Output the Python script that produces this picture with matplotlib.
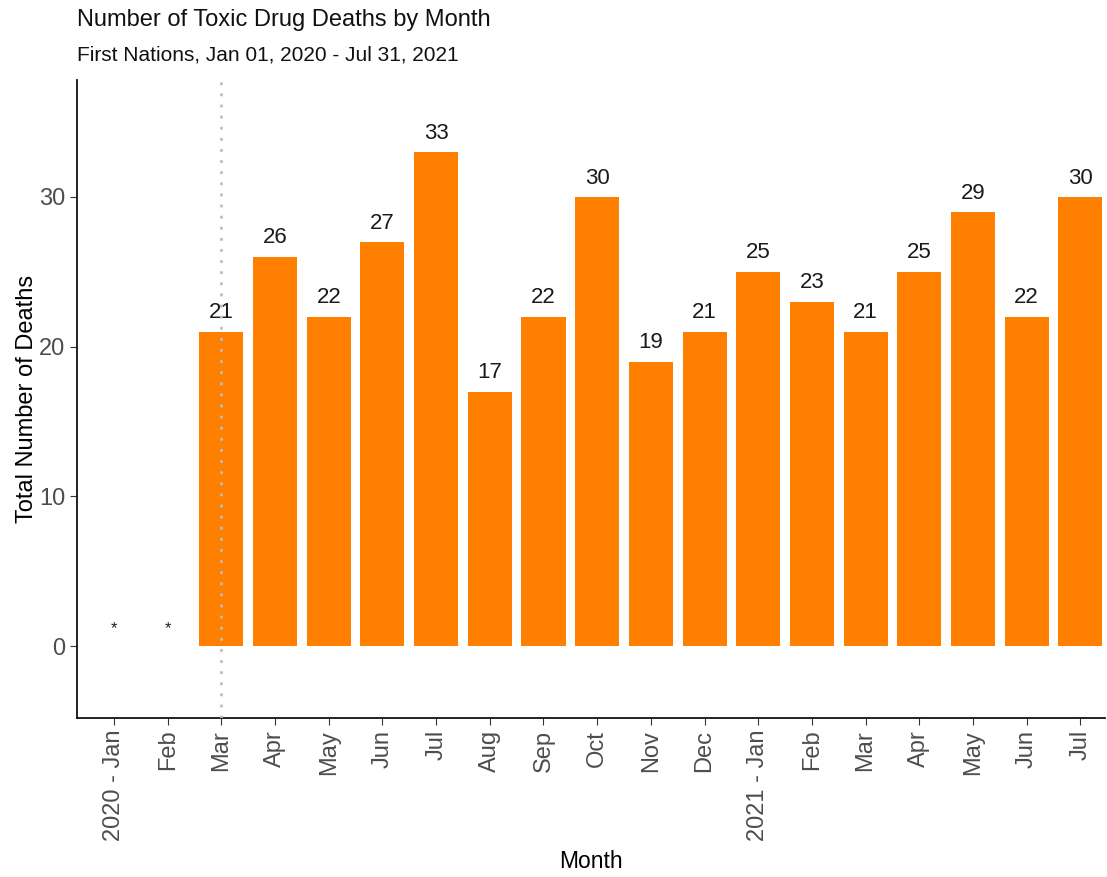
import matplotlib
matplotlib.use("Agg")
import matplotlib.pyplot as plt
import numpy as np

plt.rcParams["font.family"] = ["Liberation Sans", "DejaVu Sans"]

months = ["2020 - Jan", "Feb", "Mar", "Apr", "May", "Jun", "Jul", "Aug", "Sep",
          "Oct", "Nov", "Dec", "2021 - Jan", "Feb", "Mar", "Apr", "May", "Jun", "Jul"]
# None = suppressed (shown as "*")
deaths = [None, None, 21, 26, 22, 27, 33, 17, 22, 30, 19, 21, 25, 23, 21, 25, 29, 22, 30]
marker_month = 2  # dotted reference line at 2020 - Mar

x = np.arange(len(months))
vals = np.array([np.nan if v is None else v for v in deaths], dtype=float)

fig = plt.figure(figsize=(11.07, 8.77), dpi=100)
ax = fig.add_axes([77 / 1107, 1 - 718 / 877, 1028 / 1107, (718 - 80) / 877])

ax.bar(x, np.nan_to_num(vals), width=0.82, color="#ff7f00", zorder=2)
for xi, v in zip(x, vals):
    if np.isnan(v):
        ax.text(xi, 1.2, "*", ha="center", va="center", fontsize=12, color="#222222")
    else:
        ax.text(xi, v + 0.55, f"{int(v)}", ha="center", va="bottom", fontsize=16,
                color="#1a1a1a")

ax.axvline(marker_month, color="#bdbdbd", ls=(0, (1, 3)), lw=2, zorder=3)

ax.set_xlim(-0.69, 18.46)
ax.set_ylim(-4.8, 37.8)
ax.set_xticks(x)
ax.set_xticklabels(months, rotation=90, fontsize=17, color="#4d4d4d")
ax.set_yticks([0, 10, 20, 30])
ax.tick_params(axis="y", labelsize=17, labelcolor="#4d4d4d", length=5, color="#333333")
ax.tick_params(axis="x", length=5, color="#333333")
for s in ("top", "right"):
    ax.spines[s].set_visible(False)
for s in ("left", "bottom"):
    ax.spines[s].set_linewidth(1.3)
    ax.spines[s].set_color("#111111")

ax.set_xlabel("Month", fontsize=16.5, labelpad=6)
ax.set_ylabel("Total Number of Deaths", fontsize=17, labelpad=1)

fig.text(77 / 1107, 1 - 20 / 877, "Number of Toxic Drug Deaths by Month", fontsize=17,
         ha="left", va="center", color="#111111")
fig.text(77 / 1107, 1 - 55 / 877, "First Nations, Jan 01, 2020 - Jul 31, 2021", fontsize=15,
         ha="left", va="center", color="#111111")

fig.savefig("out.png", dpi=100)
